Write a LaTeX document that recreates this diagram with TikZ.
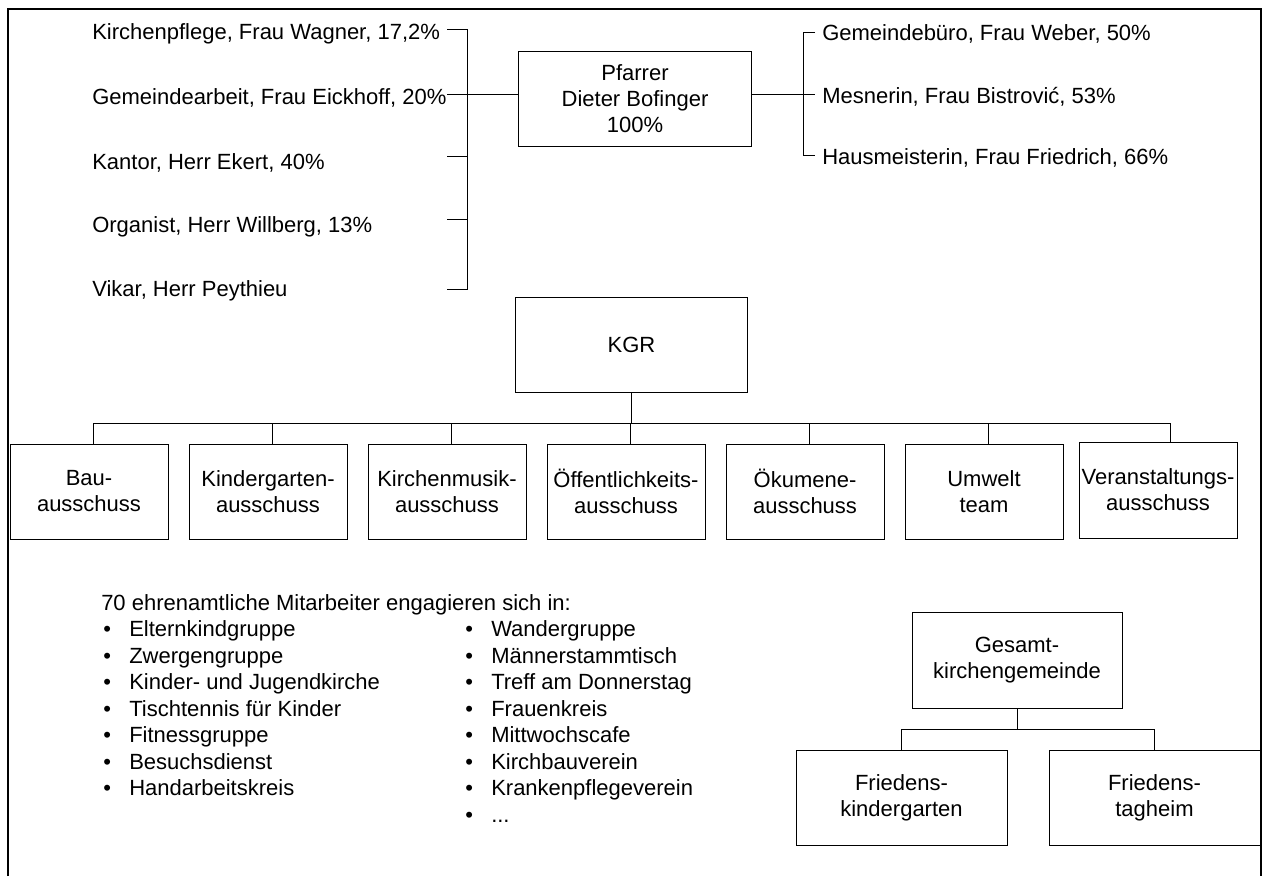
\documentclass[tikz,border=0pt]{standalone}
\usepackage{fontspec}
\setmainfont{Liberation Sans}

\tikzset{
  orgbox/.style={draw, line width=0.75pt, align=center, inner sep=0pt},
  orgline/.style={line width=0.75pt},
  lbl/.style={anchor=base west, inner sep=0pt},
  every node/.style={font=\fontsize{16.5}{19.5}\selectfont}
}

\begin{document}
\begin{tikzpicture}[x=0.75pt, y=-0.75pt]
	\useasboundingbox (0,0) rectangle (1263,876);
	% Rahmen, unten offen
	\draw[line width=1.6pt] (8,876) -- (8,9) -- (1261,9) -- (1261,876);

	% Pfarrer und Hauptamtliche
	\node[orgbox, minimum width=174.75pt, minimum height=71.25pt] (pfarrer) at (635,98.5) {Pfarrer\\Dieter Bofinger\\100\%};
	\node[lbl] (kp) at (92,39) {Kirchenpflege, Frau Wagner, 17,2\%};
	\node[lbl] (ga) at (92,104) {Gemeindearbeit, Frau Eickhoff, 20\%};
	\node[lbl] (ka) at (92,169) {Kantor, Herr Ekert, 40\%};
	\node[lbl] (og) at (92,232) {Organist, Herr Willberg, 13\%};
	\node[lbl] (vk) at (92,296) {Vikar, Herr Peythieu};
	\coordinate (kp-t) at (447,29);
	\coordinate (ga-t) at (447,94);
	\coordinate (ka-t) at (447,156);
	\coordinate (og-t) at (447,219);
	\coordinate (vk-t) at (447,289);
	\coordinate (lbar) at (467,0);
	\draw[orgline] (kp-t) -- (kp-t -| lbar) -- (vk-t -| lbar) -- (vk-t);
	\foreach \n in {ka,og} \draw[orgline] (\n-t) -- (\n-t -| lbar);
	\draw[orgline] (ga-t) -- (pfarrer.west |- ga-t);

	\node[lbl] (gb) at (822,40) {Gemeindebüro, Frau Weber, 50\%};
	\node[lbl] (ms) at (822,103) {Mesnerin, Frau Bistrović, 53\%};
	\node[lbl] (hm) at (822,164) {Hausmeisterin, Frau Friedrich, 66\%};
	\coordinate (gb-t) at (815,32);
	\coordinate (ms-t) at (815,94);
	\coordinate (hm-t) at (815,155);
	\coordinate (rbar) at (803,0);
	\draw[orgline] (gb-t) -- (gb-t -| rbar) -- (hm-t -| rbar) -- (hm-t);
	\draw[orgline] (pfarrer.east |- ms-t) -- (ms-t);

	% KGR mit Ausschuessen
	\node[orgbox, minimum width=174pt, minimum height=71.25pt] (kgr) at (631.5,344.5) {KGR};
	\foreach \n/\txt [count=\i] in {bau/{Bau-\\ausschuss}, kiga/{Kindergarten-\\ausschuss}, kimu/{Kirchenmusik-\\ausschuss}, oeff/{Öffentlichkeits-\\ausschuss}, oek/{Ökumene-\\ausschuss}, umw/{Umwelt\\team}}
		\node[orgbox, minimum width=118.5pt, minimum height=71.25pt] (\n) at ({89+179*(\i-1)},491.5) {\txt};
	\node[orgbox, minimum width=118.5pt, minimum height=72pt] (va) at (1158,490) {Veranstaltungs-\\ausschuss};
	\coordinate (bus) at (0,423);
	\draw[orgline] (kgr.south) -- (kgr.south |- bus);
	\draw[orgline] ([xshift=3pt]bau.north |- bus) -- ([xshift=9pt]va.north |- bus);
	\foreach \n in {bau,kiga,kimu,oeff,oek,umw} \draw[orgline] ([xshift=3pt]\n.north) -- ([xshift=3pt]\n.north |- bus);
	\draw[orgline] ([xshift=9pt]va.north) -- ([xshift=9pt]va.north |- bus);

	% Ehrenamtliche
	\node[lbl] (ehrenamt) at (101,610) {70 ehrenamtliche Mitarbeiter engagieren sich in:};
	\foreach \txt [count=\i] in {Elternkindgruppe, Zwergengruppe, Kinder- und Jugendkirche, Tischtennis für Kinder, Fitnessgruppe, Besuchsdienst, Handarbeitskreis}
		\node[lbl] (links\i) at (103,{610+26.5*\i}) {\makebox[19.5pt][l]{\textbullet}\txt};
	\foreach \txt [count=\i] in {Wandergruppe, Männerstammtisch, Treff am Donnerstag, Frauenkreis, Mittwochscafe, Kirchbauverein, Krankenpflegeverein}
		\node[lbl] (rechts\i) at (465,{610+26.5*\i}) {\makebox[19.5pt][l]{\textbullet}\txt};
	\node[lbl] (rechts8) at (465,822) {\makebox[19.5pt][l]{\textbullet}...};

	% Gesamtkirchengemeinde
	\node[orgbox, minimum width=157.5pt, minimum height=72pt] (gesamt) at (1017,660) {Gesamt-\\kirchengemeinde};
	\node[orgbox, minimum width=158.25pt, minimum height=71.25pt] (fkg) at (901.5,797.5) {Friedens-\\kindergarten};
	\node[orgbox, minimum width=158.25pt, minimum height=71.25pt] (fth) at (1154.5,797.5) {Friedens-\\tagheim};
	\coordinate (gbus) at (0,729);
	\draw[orgline] (gesamt.south) -- (gesamt.south |- gbus);
	\draw[orgline] (fkg.north) |- (fth.north |- gbus) -- (fth.north);
\end{tikzpicture}
\end{document}
